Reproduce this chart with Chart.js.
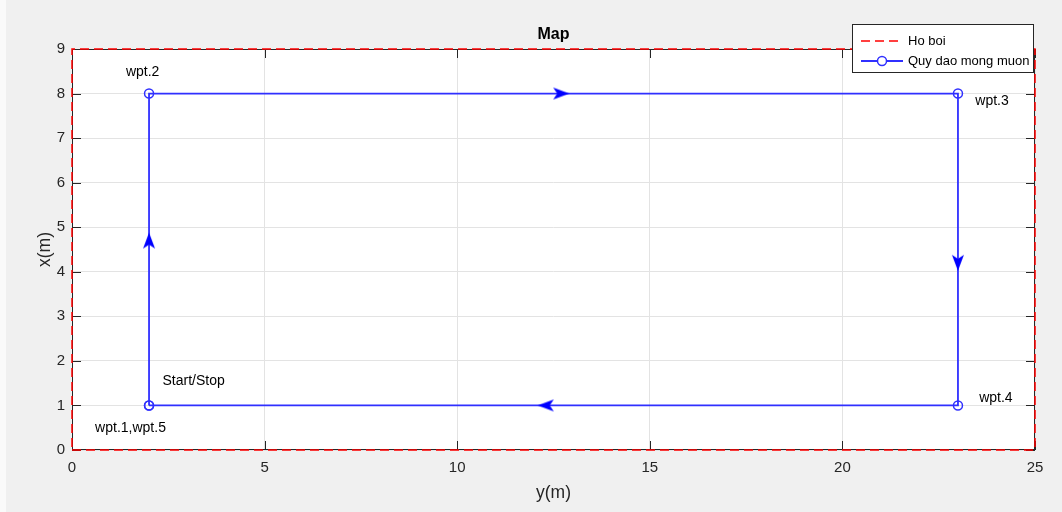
<!DOCTYPE html>
<html>
<head>
<meta charset="utf-8">
<title>Map</title>
<script src="https://cdn.jsdelivr.net/npm/chart.js@4.4.1/dist/chart.umd.min.js"></script>
<style>
  html, body { margin: 0; padding: 0; background: #f0f0f0; }
  #wrap { position: relative; width: 1062px; height: 512px; }
</style>
</head>
<body>
<div id="wrap"><canvas id="map" width="1062" height="512"></canvas></div>
<script>
// pool boundary (Ho boi)
const poolX = [0, 25, 25, 0, 0];
const poolY = [0, 0, 9, 9, 0];

// desired trajectory (Quy dao mong muon)
const pathX = [2, 2, 23, 23, 2];
const pathY = [1, 8, 8, 1, 1];

// direction arrows along the trajectory
const arrowX = [2, 12.7, 23, 12.3];
const arrowY = [4.7, 8, 4.2, 1];
const arrowRot = [0, 90, 180, 270];

// waypoint notes
const noteText = ['wpt.2', 'wpt.3', 'wpt.4', 'Start/Stop', 'wpt.1,wpt.5'];
const noteX = [1.4, 23.45, 23.55, 2.35, 0.6];
const noteY = [8.48, 7.82, 1.17, 1.55, 0.5];

// axis ticks
const xTicks = [0, 5, 10, 15, 20, 25];
const yTicks = [0, 1, 2, 3, 4, 5, 6, 7, 8, 9];

const FONT = '"Liberation Sans", Arial, Helvetica, sans-serif';
const AXIS = '#262626';
const BLUE = '#3030ff';

function toPts(xs, ys) {
  return xs.map((x, i) => ({ x: x, y: ys[i] }));
}

// little dart shaped arrow head, pointing up
function makeArrow() {
  const c = document.createElement('canvas');
  c.width = 18; c.height = 18;
  const g = c.getContext('2d');
  g.fillStyle = '#0000ff';
  g.beginPath();
  g.moveTo(9, 1);
  g.lineTo(15, 17);
  g.lineTo(9, 13);
  g.lineTo(3, 17);
  g.closePath();
  g.fill();
  return c;
}

const decor = {
  id: 'decor',
  beforeDraw(chart) {
    const { ctx, chartArea: a } = chart;
    ctx.save();
    ctx.fillStyle = '#f0f0f0';
    ctx.fillRect(0, 0, chart.width, chart.height);
    ctx.fillStyle = '#fafafa';
    ctx.fillRect(0, 0, 6, chart.height);
    ctx.fillStyle = '#ffffff';
    ctx.fillRect(a.left, a.top, a.right - a.left, a.bottom - a.top);
    ctx.restore();
  },
  beforeDatasetsDraw(chart) {
    const { ctx, chartArea: a, scales } = chart;
    ctx.save();
    ctx.strokeStyle = AXIS;
    ctx.lineWidth = 1;
    ctx.strokeRect(a.left + 0.5, a.top + 0.5, a.right - a.left - 1, a.bottom - a.top - 1);
    // inward ticks on all four sides
    const tl = 9;
    ctx.beginPath();
    xTicks.forEach(v => {
      const px = Math.round(scales.x.getPixelForValue(v)) + 0.5;
      ctx.moveTo(px, a.bottom); ctx.lineTo(px, a.bottom - tl);
      ctx.moveTo(px, a.top); ctx.lineTo(px, a.top + tl);
    });
    yTicks.forEach(v => {
      const py = Math.round(scales.y.getPixelForValue(v)) + 0.5;
      ctx.moveTo(a.left, py); ctx.lineTo(a.left + tl, py);
      ctx.moveTo(a.right, py); ctx.lineTo(a.right - tl, py);
    });
    ctx.stroke();
    ctx.restore();
  },
  afterDraw(chart) {
    const { ctx, chartArea: a, scales } = chart;
    const mid = (a.left + a.right) / 2;
    ctx.save();
    ctx.textBaseline = 'middle';

    // title + axis names
    ctx.fillStyle = '#000';
    ctx.textAlign = 'center';
    ctx.font = 'bold 16px ' + FONT;
    ctx.fillText('Map', mid, 35);
    ctx.fillStyle = AXIS;
    ctx.font = '17.5px ' + FONT;
    ctx.fillText('y(m)', mid, 493);
    ctx.save();
    ctx.translate(45, (a.top + a.bottom) / 2);
    ctx.rotate(-Math.PI / 2);
    ctx.fillText('x(m)', 0, 0);
    ctx.restore();

    // waypoint notes
    ctx.fillStyle = '#000';
    ctx.textAlign = 'left';
    ctx.font = '14px ' + FONT;
    noteText.forEach((t, i) => {
      ctx.fillText(t, scales.x.getPixelForValue(noteX[i]), scales.y.getPixelForValue(noteY[i]));
    });

    // legend box
    const lx = 852, ly = 24, lw = 182, lh = 49;
    ctx.fillStyle = '#fff';
    ctx.fillRect(lx, ly, lw, lh);
    ctx.strokeStyle = AXIS;
    ctx.lineWidth = 1;
    ctx.strokeRect(lx + 0.5, ly + 0.5, lw - 1, lh - 1);
    const ds = chart.data.datasets;
    const rows = [ly + 17, ly + 37];
    [0, 1].forEach(i => {
      const d = ds[i];
      const y = rows[i];
      ctx.save();
      ctx.strokeStyle = d.borderColor;
      ctx.lineWidth = d.borderWidth;
      ctx.setLineDash(d.borderDash || []);
      ctx.beginPath();
      ctx.moveTo(861, y); ctx.lineTo(903, y);
      ctx.stroke();
      ctx.restore();
      if (d.pointRadius > 0) {
        ctx.save();
        ctx.strokeStyle = d.pointBorderColor;
        ctx.lineWidth = d.pointBorderWidth;
        ctx.beginPath();
        ctx.arc(882, y, d.pointRadius, 0, Math.PI * 2);
        ctx.fillStyle = '#fff';
        ctx.fill();
        ctx.stroke();
        ctx.restore();
      }
      ctx.fillStyle = '#000';
      ctx.font = '13px ' + FONT;
      ctx.fillText(d.label, 908, y);
    });
    ctx.restore();
  }
};

new Chart(document.getElementById('map'), {
  type: 'scatter',
  data: {
    datasets: [{
      label: 'Ho boi',
      data: toPts(poolX, poolY),
      showLine: true,
      borderColor: '#ff0000',
      borderWidth: 1.5,
      borderDash: [9, 5],
      pointRadius: 0,
      clip: false,
      order: 1
    }, {
      label: 'Quy dao mong muon',
      data: toPts(pathX, pathY),
      showLine: true,
      borderColor: BLUE,
      borderWidth: 1.8,
      pointRadius: 4.5,
      pointBorderColor: BLUE,
      pointBorderWidth: 1.5,
      pointBackgroundColor: 'rgba(0,0,0,0)',
      clip: false,
      order: 2
    }, {
      label: 'arrows',
      data: toPts(arrowX, arrowY),
      showLine: false,
      pointStyle: makeArrow(),
      pointRotation: arrowRot,
      clip: false,
      order: 0
    }]
  },
  options: {
    responsive: false,
    animation: false,
    events: [],
    layout: { padding: { top: 49, right: 27, left: 0, bottom: 0 } },
    plugins: {
      legend: { display: false },
      title: { display: false },
      tooltip: { enabled: false }
    },
    scales: {
      x: {
        type: 'linear',
        min: 0, max: 25,
        afterBuildTicks: s => { s.ticks = xTicks.map(v => ({ value: v })); },
        afterFit: s => { s.height = 62; },
        grid: { color: '#e3e3e3', drawTicks: false },
        border: { display: false },
        ticks: { padding: 9, color: AXIS, font: { family: FONT, size: 15 } }
      },
      y: {
        type: 'linear',
        min: 0, max: 9,
        afterBuildTicks: s => { s.ticks = yTicks.map(v => ({ value: v })); },
        afterFit: s => { s.width = 72; },
        grid: { color: '#e3e3e3', drawTicks: false },
        border: { display: false },
        ticks: { padding: 7, color: AXIS, font: { family: FONT, size: 15 } }
      }
    }
  },
  plugins: [decor]
});
</script>
</body>
</html>
